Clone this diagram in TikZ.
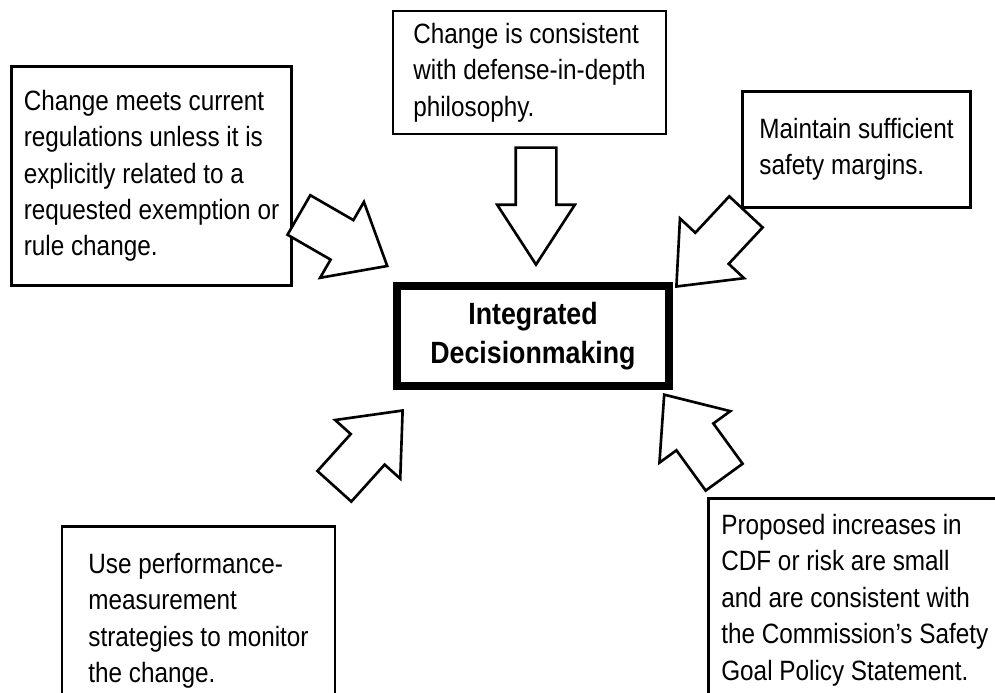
\documentclass[tikz,border=0pt]{standalone}
\usepackage{fontspec}
\setmainfont{Liberation Sans}[FakeStretch=0.87]
\usetikzlibrary{shapes.arrows}

\tikzset{
  note/.style={draw, line width=1.5pt, align=left, inner xsep=0pt,
    font=\fontsize{15.9pt}{20.7pt}\selectfont},
  bigarrow/.style={single arrow, draw, line width=1.5pt, fill=white,
    inner xsep=0pt, inner ysep=0.43cm, minimum width=1pt, minimum height=2.04cm,
    single arrow head extend=0.42cm, single arrow tip angle=80, anchor=tip},
}

\begin{document}
\begin{tikzpicture}[x=0.02cm, y=-0.02cm]
\useasboundingbox (0,0) rectangle (995,693);
\clip (0,0) rectangle (995,693);
% central box
\node[draw, line width=4.8pt, minimum width=5.44cm, minimum height=2cm,
  align=center, font=\fontsize{17.5pt}{22pt}\selectfont\bfseries]
  (idm) at (533,336) {Integrated\\Decisionmaking};
% criteria boxes
\node[note, minimum width=5.6cm, minimum height=4.38cm] (regs) at (151.5,176)
  {Change meets current\\regulations unless it is\\explicitly related to a\\requested exemption or\\rule change.};
\node[note, minimum width=5.46cm, minimum height=2.46cm] (depth) at (529.5,72.5)
  {Change is consistent\\with defense-in-depth\\philosophy.};
\node[note, minimum width=4.56cm, minimum height=2.32cm] (margin) at (856.5,149.5)
  {Maintain sufficient\\safety margins.};
\node[note, anchor=north, minimum width=5.46cm, inner ysep=0.54cm] (monitor) at (198.5,525)
  {Use performance-\\measurement\\strategies to monitor\\the change.};
% this box runs off the page on the right
\node[note, draw=none, anchor=north west, inner sep=0pt] (risk) at (720,513)
  {Proposed increases in\\CDF or risk are small\\and are consistent with\\the Commission’s Safety\\Goal Policy Statement.};
\draw[line width=1.5pt] (708.75,700) |- (996,498.75);
% arrows into the decision
\node[bigarrow, rotate=-30] (a1) at (389,267) {};
\node[bigarrow, inner ysep=0.38cm, minimum height=2.34cm,
  single arrow head extend=0.37cm, single arrow tip angle=66,
  rotate=-90] (a2) at (536,267) {};
\node[bigarrow, rotate=227] (a3) at (675,288) {};
\node[bigarrow, rotate=48] (a4) at (404,409) {};
\node[bigarrow, rotate=126] (a5) at (663,393) {};
\end{tikzpicture}
\end{document}
